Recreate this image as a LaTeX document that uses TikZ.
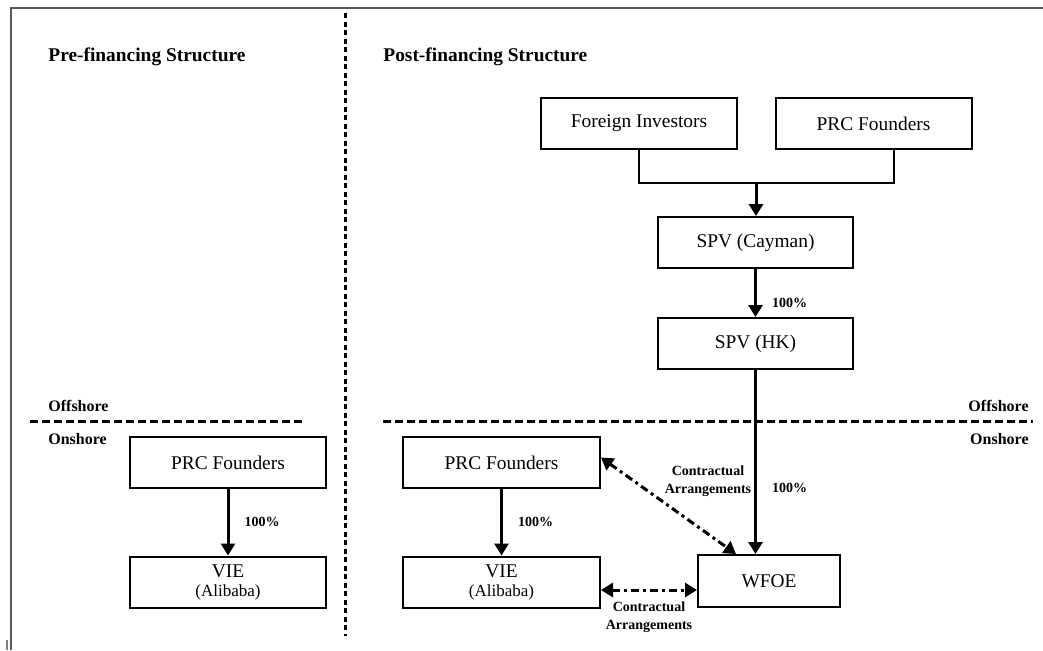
\documentclass[tikz,border=0pt]{standalone}
\usepackage{fontspec}
\setmainfont{Liberation Serif}
\usetikzlibrary{positioning, arrows.meta}

\newcommand\boxfont{\fontsize{9.7}{11}\selectfont}
\newcommand\smallfont{\fontsize{8.5}{9}\selectfont}
\newcommand\lblfont{\bfseries\fontsize{7}{9}\selectfont}

\begin{document}
\begin{tikzpicture}[
    x=0.5pt, y=-0.5pt, >={Triangle[length=6pt, width=7pt]},
    box/.style={draw, line width=1pt, minimum width=98pt, minimum height=25.5pt, inner sep=0pt, align=center, font=\boxfont},
    arrow/.style={->, line width=1.5pt},
    contract/.style={<->, line width=1.5pt, dash pattern=on 4pt off 2pt on 1.5pt off 2pt},
    pct/.style={anchor=west, inner sep=0pt, xshift=7.5pt, font=\lblfont},
    contractlbl/.style={align=center, inner sep=0pt, font=\lblfont},
    shore/.style={inner sep=0pt, font=\bfseries\fontsize{8}{9}\selectfont},
    title/.style={anchor=west, inner sep=0pt, font=\bfseries\boxfont}
]
    \useasboundingbox (0,0) rectangle (1043,650);

    % Page frame
    \draw[gray!70!black, line width=1pt] (1043,8) -- (11,8) -- (11,650);
    \draw[gray, line width=1pt] (7,640) -- (7,650);

    % Titles
    \node[title] (PRETITLE) at (48,57) {Pre-financing Structure};
    \node[title] (POSTTITLE) at (383,57) {Post-financing Structure};

    % Dividers
    \draw[line width=1.5pt, dash pattern=on 2.5pt off 1.75pt] (345,13) -- (345,636);
    \draw[line width=1.5pt, dash pattern=on 4pt off 2pt] (30,421) -- (302,421);
    \draw[line width=1.5pt, dash pattern=on 4pt off 2pt] (383,421) -- (1033,421);

    \node[shore, anchor=west] (OFFL) at (48,406) {Offshore};
    \node[shore, anchor=west] (ONL) at (48,439) {Onshore};
    \node[shore, anchor=east] (OFFR) at (1029,406) {Offshore};
    \node[shore, anchor=east] (ONR) at (1029,439) {Onshore};

    % Pre-financing
    \node[box] (PRCL) at (228,462.5) {PRC Founders};
    \node[box, below of=PRCL, node distance=59.75pt] (VIEL) {VIE\\[-1.5pt]{\smallfont(Alibaba)}};

    \path (PRCL) edge[arrow] node[pct] {100\%} (VIEL);

    % Post-financing: offshore
    \node[box] (FI) at (639,123.5) {Foreign Investors};
    \node[box, right of=FI, node distance=117.25pt] (PRCTOP) {PRC Founders};
    \node[box, minimum width=97.5pt] (CAYMAN) at (755.5,242.5) {SPV (Cayman)};
    \node[box, minimum width=97.5pt, below of=CAYMAN, node distance=50.5pt] (HK) {SPV (HK)};

    \coordinate (JOIN) at (756,183);
    \draw[line width=1pt] (FI.south) |- (JOIN) -| ([xshift=10pt]PRCTOP.south);
    \draw[arrow] (JOIN) -- (JOIN |- CAYMAN.north);
    \draw[arrow] (CAYMAN) -- node[pct, pos=0.7] {100\%} (HK);

    % Post-financing: onshore
    \node[box, minimum width=98.5pt] (PRCR) at (501.5,462.5) {PRC Founders};
    \node[box, minimum width=98.5pt, below of=PRCR, node distance=59.75pt] (VIER) {VIE\\[-1.5pt]{\smallfont(Alibaba)}};
    \node[box, minimum width=71pt, minimum height=26pt] (WFOE) at (769,581) {WFOE};

    \path (PRCR) edge[arrow] node[pct] {100\%} (VIER);
    \draw[arrow] (HK.south) -- node[pct, pos=0.64] {100\%} (HK.south |- WFOE.north);

    \draw[contract] ([yshift=2.5pt]PRCR.east) -- ([xshift=19.5pt]WFOE.north west);
    \draw[contract] ([yshift=-4pt]VIER.east) -- ([yshift=-4pt]VIER.east -| WFOE.west);

    \node[contractlbl] (CONTRACTTOP) at (708,481) {Contractual\\Arrangements};
    \node[contractlbl] (CONTRACTBOT) at (649,617) {Contractual\\Arrangements};

\end{tikzpicture}
\end{document}
